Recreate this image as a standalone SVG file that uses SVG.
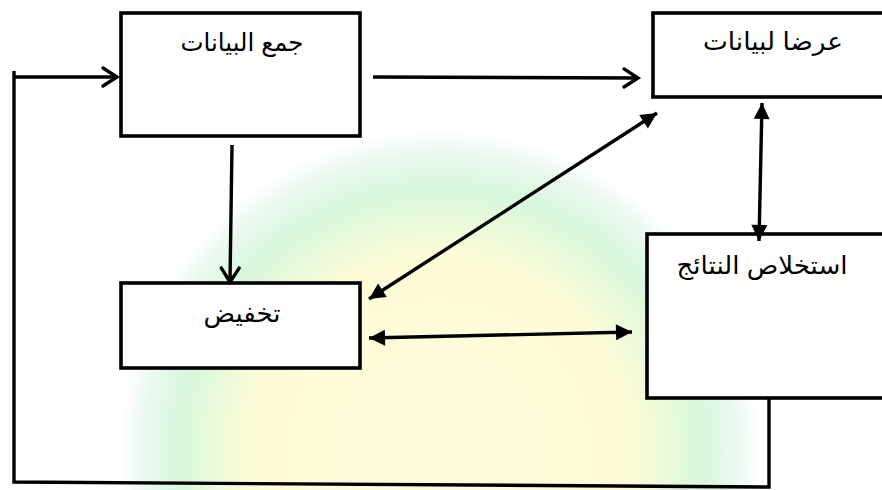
<svg xmlns="http://www.w3.org/2000/svg" width="882" height="490" viewBox="0 0 882 490">
  <defs>
    <radialGradient id="wm" cx="440" cy="450" r="320" gradientUnits="userSpaceOnUse">
      <stop offset="0" stop-color="#fffbd6"/>
      <stop offset="0.6" stop-color="#fdfbd0"/>
      <stop offset="0.82" stop-color="#d0f6d6"/>
      <stop offset="0.93" stop-color="#e8f7ee"/>
      <stop offset="1" stop-color="#ffffff"/>
    </radialGradient>
    <marker id="chev" markerUnits="userSpaceOnUse" markerWidth="24" markerHeight="24" refX="18" refY="10" orient="auto" overflow="visible">
      <path d="M4,1 L18,10 L4,19" fill="none" stroke="#000" stroke-width="3.4" stroke-linecap="round" stroke-linejoin="miter"/>
    </marker>
    <marker id="tri" markerUnits="userSpaceOnUse" markerWidth="20" markerHeight="20" refX="16" refY="8" orient="auto-start-reverse" overflow="visible">
      <path d="M0,0 L16,8 L0,16 Z" fill="#000"/>
    </marker>
    <style>
      .box { fill: #ffffff; stroke: #000; stroke-width: 3.6; }
      .lbl { font-family: "Liberation Sans", "DejaVu Sans", sans-serif; font-size: 25px; fill: #000; text-anchor: middle; }
      .con { fill: none; stroke: #000; stroke-width: 3.4; }
    </style>
  </defs>

  <rect width="882" height="490" fill="#ffffff"/>
  <g id="watermark" opacity="0.85">
    <circle cx="440" cy="450" r="320" fill="url(#wm)"/>
  </g>

  <g id="node-collect">
    <rect class="box" x="121" y="13" width="239" height="123"/>
    <text class="lbl" x="242" y="51" direction="rtl" textLength="123" lengthAdjust="spacingAndGlyphs">جمع البيانات</text>
  </g>
  <g id="node-display">
    <rect class="box" x="653" y="13" width="240" height="84"/>
    <text class="lbl" x="773" y="50" direction="rtl" textLength="140" lengthAdjust="spacingAndGlyphs">عرضا لبيانات</text>
  </g>
  <g id="node-reduce">
    <rect class="box" x="121" y="283" width="239" height="85"/>
    <text class="lbl" x="242" y="322" direction="rtl" textLength="77" lengthAdjust="spacingAndGlyphs">تخفيض</text>
  </g>
  <g id="node-conclude">
    <rect class="box" x="647" y="234" width="246" height="164"/>
    <text class="lbl" x="762" y="274" direction="rtl" textLength="171" lengthAdjust="spacingAndGlyphs">استخلاص النتائج</text>
  </g>

  <g id="connectors">
    <path class="con" d="M769,398 L769,487 L14,482 L14,71"/>
    <path class="con" d="M13,77 L117,77" marker-end="url(#chev)"/>
    <path class="con" d="M373,77 L638,78" marker-end="url(#chev)"/>
    <path class="con" d="M232,145 L230,282" marker-end="url(#chev)"/>
    <path class="con" d="M369,299 L657,113" marker-start="url(#tri)" marker-end="url(#tri)"/>
    <path class="con" d="M762,103 L759,241" marker-start="url(#tri)" marker-end="url(#tri)"/>
    <path class="con" d="M369,338 L632,332" marker-start="url(#tri)" marker-end="url(#tri)"/>
  </g>
</svg>
